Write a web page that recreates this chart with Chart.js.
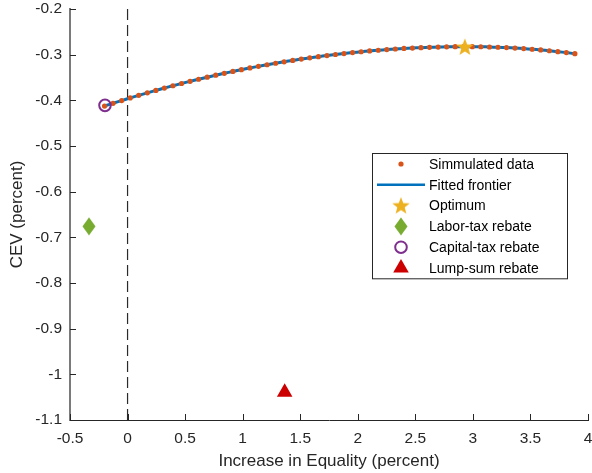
<!DOCTYPE html>
<html lang="en">
<head>
  <meta charset="UTF-8" />
  <title>CEV vs Increase in Equality</title>
  <script src="https://cdn.jsdelivr.net/npm/chart.js"></script>
  <style>
    html, body { margin: 0; padding: 0; background: #fff; }
    #wrap { width: 592px; height: 473px; }
  </style>
</head>
<body>
<div id="wrap"><canvas id="frontierChart" width="592" height="473"></canvas></div>
<script>
  // simulated frontier
  const simX = [-0.200, -0.126, -0.051, 0.023, 0.097, 0.172, 0.246, 0.320, 0.394, 0.469,
                0.543, 0.617, 0.692, 0.766, 0.840, 0.915, 0.989, 1.063, 1.137, 1.212,
                1.286, 1.360, 1.435, 1.509, 1.583, 1.658, 1.732, 1.806, 1.880, 1.955,
                2.029, 2.103, 2.178, 2.252, 2.326, 2.401, 2.475, 2.549, 2.623, 2.698,
                2.772, 2.846, 2.921, 2.995, 3.069, 3.144, 3.218, 3.292, 3.366, 3.441,
                3.515, 3.589, 3.664, 3.738, 3.812, 3.886];
  const simY = [-0.4125, -0.4065, -0.4005, -0.3947, -0.3891, -0.3836, -0.3783, -0.3731, -0.3681, -0.3631,
                -0.3584, -0.3538, -0.3493, -0.3450, -0.3408, -0.3368, -0.3329, -0.3291, -0.3256, -0.3221,
                -0.3188, -0.3156, -0.3126, -0.3097, -0.3070, -0.3044, -0.3019, -0.2996, -0.2975, -0.2955,
                -0.2936, -0.2919, -0.2903, -0.2889, -0.2876, -0.2864, -0.2855, -0.2846, -0.2839, -0.2833,
                -0.2829, -0.2826, -0.2825, -0.2825, -0.2827, -0.2832, -0.2838, -0.2845, -0.2855, -0.2867,
                -0.2881, -0.2896, -0.2914, -0.2934, -0.2955, -0.2978];

  const optimumX = [2.93];
  const optimumY = [-0.283];
  const laborX = [-0.335];
  const laborY = [-0.676];
  const capitalX = [-0.196];
  const capitalY = [-0.411];
  const lumpX = [1.365];
  const lumpY = [-1.039];

  const zeroLineX = [0, 0];
  const zeroLineY = [-1.1, -0.2];

  const xTicks = [-0.5, 0, 0.5, 1, 1.5, 2, 2.5, 3, 3.5, 4];
  const yTicks = [-1.1, -1, -0.9, -0.8, -0.7, -0.6, -0.5, -0.4, -0.3, -0.2];

  const FONT = "'Liberation Sans', Arial, Helvetica, sans-serif";
  const TXT = "#262626";

  const pts = (xs, ys) => xs.map((x, i) => ({ x: x, y: ys[i] }));

  function starMarker(size, color) {
    const c = document.createElement("canvas");
    c.width = size; c.height = size;
    const g = c.getContext("2d");
    const cx = size / 2, cy = size / 2 + 0.6, R = size / 2 - 0.8, r = R * 0.42;
    g.beginPath();
    for (let k = 0; k < 10; k++) {
      const a = -Math.PI / 2 + k * Math.PI / 5;
      const rr = k % 2 === 0 ? R : r;
      g.lineTo(cx + rr * Math.cos(a), cy + rr * Math.sin(a));
    }
    g.closePath();
    g.fillStyle = color;
    g.fill();
    return c;
  }

  function diamondMarker(w, h, color) {
    const c = document.createElement("canvas");
    c.width = w; c.height = h;
    const g = c.getContext("2d");
    g.beginPath();
    g.moveTo(w / 2, 0.5);
    g.lineTo(w - 0.5, h / 2);
    g.lineTo(w / 2, h - 0.5);
    g.lineTo(0.5, h / 2);
    g.closePath();
    g.fillStyle = color;
    g.fill();
    return c;
  }

  const starImg = starMarker(20, "#EDB120");
  const diamondImg = diamondMarker(14, 19, "#77AC30");

  // MATLAB-like inward ticks
  const inwardTicks = {
    id: "inwardTicks",
    afterDatasetsDraw(chart) {
      const ctx = chart.ctx, a = chart.chartArea;
      const xs = chart.scales.x, ys = chart.scales.y;
      ctx.save();
      ctx.strokeStyle = TXT;
      ctx.lineWidth = 1;
      ctx.beginPath();
      xs.ticks.forEach(t => {
        const px = Math.round(xs.getPixelForValue(t.value)) + 0.5;
        ctx.moveTo(px, a.bottom);
        ctx.lineTo(px, a.bottom - 6);
      });
      ys.ticks.forEach(t => {
        const py = Math.round(ys.getPixelForValue(t.value)) + 0.5;
        ctx.moveTo(a.left, py);
        ctx.lineTo(a.left + 6, py);
      });
      ctx.stroke();
      ctx.restore();
    }
  };

  // boxed legend inside the axes
  const boxLegend = {
    id: "boxLegend",
    afterDraw(chart) {
      const ctx = chart.ctx, a = chart.chartArea;
      const items = chart.data.datasets.filter(d => d.inLegend);
      const left = a.right - 216, top = a.top + 144, w = 195, rowH = 20.8;
      const h = items.length * rowH + 0.5;
      ctx.save();
      ctx.fillStyle = "#fff";
      ctx.fillRect(left, top, w, h);
      ctx.strokeStyle = TXT;
      ctx.lineWidth = 1;
      ctx.strokeRect(Math.round(left) + 0.5, Math.round(top) + 0.5, w, h);
      ctx.font = "14px " + FONT;
      ctx.textBaseline = "middle";
      items.forEach((d, i) => {
        const cy = top + 11 + i * rowH;
        const ix = left + 29;
        if (d.showLine && d.pointRadius === 0) {
          ctx.strokeStyle = d.borderColor;
          ctx.lineWidth = 2.5;
          ctx.beginPath();
          ctx.moveTo(left + 5, cy);
          ctx.lineTo(left + 53, cy);
          ctx.stroke();
        } else {
          ctx.fillStyle = d.pointBackgroundColor || "rgba(0,0,0,0)";
          ctx.strokeStyle = d.pointBorderColor || "rgba(0,0,0,0)";
          ctx.lineWidth = d.pointBorderWidth || 0;
          Chart.helpers.drawPoint(ctx, {
            pointStyle: d.pointStyle,
            radius: d.pointRadius,
            borderWidth: d.pointBorderWidth || 0,
            rotation: 0
          }, ix, cy);
        }
        ctx.fillStyle = "#000";
        ctx.fillText(d.label, left + 57, cy + 1);
      });
      ctx.restore();
    }
  };

  new Chart(document.getElementById("frontierChart"), {
    type: "scatter",
    data: {
      datasets: [
        {
          label: "Simmulated data", inLegend: true, order: 1,
          data: pts(simX, simY), showLine: false,
          pointStyle: "circle", pointRadius: 2.6, pointBorderWidth: 0,
          pointBackgroundColor: "#D95319", pointBorderColor: "#D95319"
        },
        {
          label: "Fitted frontier", inLegend: true, order: 2,
          data: pts(simX, simY), showLine: true, tension: 0.3,
          borderColor: "#0072BD", borderWidth: 3, pointRadius: 0
        },
        {
          label: "Optimum", inLegend: true, order: 0,
          data: pts(optimumX, optimumY), showLine: false,
          pointStyle: starImg, pointRadius: 8
        },
        {
          label: "Labor-tax rebate", inLegend: true, order: 0,
          data: pts(laborX, laborY), showLine: false,
          pointStyle: diamondImg, pointRadius: 8
        },
        {
          label: "Capital-tax rebate", inLegend: true, order: 0,
          data: pts(capitalX, capitalY), showLine: false,
          pointStyle: "circle", pointRadius: 5.8, pointBorderWidth: 2,
          pointBorderColor: "#7E2F8E", pointBackgroundColor: "rgba(0,0,0,0)"
        },
        {
          label: "Lump-sum rebate", inLegend: true, order: 0,
          data: pts(lumpX, lumpY), showLine: false,
          pointStyle: "triangle", pointRadius: 9, pointBorderWidth: 0,
          pointBackgroundColor: "#CC0000", pointBorderColor: "#CC0000"
        },
        {
          label: "zero", inLegend: false, order: 3,
          data: pts(zeroLineX, zeroLineY), showLine: true,
          borderColor: "#2a2a2a", borderWidth: 1.2, borderDash: [11, 5], pointRadius: 0
        }
      ]
    },
    options: {
      responsive: false,
      animation: false,
      devicePixelRatio: 1,
      layout: { autoPadding: false, padding: { left: 0, top: 0, right: 4, bottom: 0 } },
      plugins: { legend: { display: false }, tooltip: { enabled: false } },
      scales: {
        x: {
          type: "linear", min: -0.5, max: 4,
          afterBuildTicks: s => { s.ticks = xTicks.map(v => ({ value: v })); },
          afterFit: s => { s.height = 53; s.paddingLeft = 0; s.paddingRight = 0; },
          grid: { display: false, drawTicks: false },
          border: { display: true, color: TXT, width: 1 },
          ticks: {
            autoSkip: false, maxRotation: 0, padding: 9, color: TXT,
            font: { family: FONT, size: 15.5 },
            callback: v => String(parseFloat(Number(v).toFixed(2)))
          },
          title: {
            display: true, text: "Increase in Equality (percent)", color: TXT,
            font: { family: FONT, size: 17 }, padding: { top: 0, bottom: 1 }
          }
        },
        y: {
          type: "linear", min: -1.1, max: -0.2,
          afterBuildTicks: s => { s.ticks = yTicks.map(v => ({ value: v })); },
          afterFit: s => { s.width = 70; s.paddingTop = 9; s.paddingBottom = 0; },
          grid: { display: false, drawTicks: false },
          border: { display: true, color: "#7a7a7a", width: 2 },
          ticks: {
            autoSkip: false, padding: 8, color: TXT,
            font: { family: FONT, size: 15.5 },
            callback: v => String(parseFloat(Number(v).toFixed(2)))
          },
          title: {
            display: true, text: "CEV (percent)", color: TXT,
            font: { family: FONT, size: 17 }, padding: { top: 7, bottom: 0 }
          }
        }
      }
    },
    plugins: [inwardTicks, boxLegend]
  });
</script>
</body>
</html>
